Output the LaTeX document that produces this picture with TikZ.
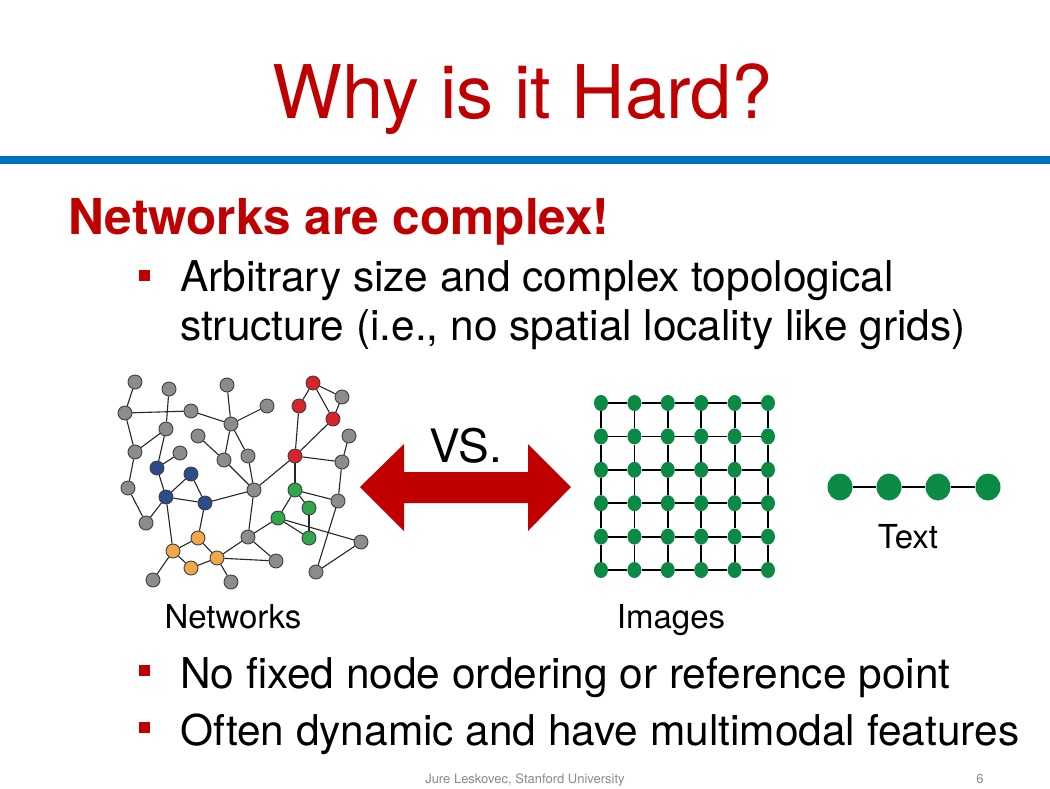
\documentclass[tikz,border=0pt]{standalone}
\usepackage{fontspec}
\setmainfont{TeX Gyre Heros}
\usetikzlibrary{shapes.geometric}
\definecolor{slred}{HTML}{C00000}
\definecolor{slblue}{HTML}{0070C0}
\definecolor{ngray}{HTML}{8C8C8C}
\definecolor{nred}{HTML}{D9232A}
\definecolor{nblue}{HTML}{2C4A8C}
\definecolor{norange}{HTML}{F0A848}
\definecolor{ngreen}{HTML}{2EA84A}
\definecolor{tgreen}{HTML}{0B8A45}
\definecolor{foot}{HTML}{8A8A8A}
\tikzset{
  nnode/.style={circle, draw=black!75, line width=0.9pt, minimum size=14pt, inner sep=0pt},
  nedge/.style={draw=black!85, line width=1.1pt},
  gnode/.style={ellipse, fill=tgreen, minimum width=14pt, minimum height=16pt, inner sep=0pt},
  tnode/.style={ellipse, fill=tgreen, minimum width=25pt, minimum height=27pt, inner sep=0pt},
  gedge/.style={draw=black, line width=1.8pt},
  bodytext/.style={anchor=base west, inner sep=0pt, font=\fontsize{42.4}{46}\selectfont},
  bulletsq/.style={fill=slred},
  lbl/.style={anchor=base, inner sep=0pt, font=\fontsize{33}{36}\selectfont}
}
\begin{document}
\begin{tikzpicture}[x=1pt,y=-1pt]
\useasboundingbox[fill=white] (0,0) rectangle (1050,788);
% title
\node[anchor=base, inner sep=0pt, text=slred, font=\fontsize{74}{80}\selectfont] (title) at (523,118) {Why is it Hard?};
\fill[slblue] (0,156) rectangle (1050,164);
\node[anchor=base west, inner sep=0pt, text=slred, font=\fontsize{49.5}{54}\selectfont\bfseries] (head) at (68,234) {Networks are complex!};
% bullets
\fill[bulletsq] (139,270) rectangle (150,281);
\node[bodytext] (b1a) at (180,291) {Arbitrary size and complex topological};
\node[bodytext] (b1b) at (180,340) {structure (i.e., no spatial locality like grids)};
\fill[bulletsq] (139,665) rectangle (150,676);
\node[bodytext] (b2) at (180,688) {No fixed node ordering or reference point};
\fill[bulletsq] (139,722) rectangle (150,733);
\node[bodytext] (b3) at (180,745) {Often dynamic and have multimodal features};
% network
\foreach \i/\x/\y/\c in {
 1/135/382/ngray, 2/169/389/ngray, 3/227/385/ngray, 4/125/413/ngray, 5/191/411/ngray,
 6/267/406/ngray, 7/231/424/ngray, 8/166/429/ngray, 9/198/436/ngray, 10/135/452/ngray,
 11/180/453/ngray, 12/224/460/ngray, 13/248/456/ngray, 14/157/468/nblue, 15/191/474/nblue,
 16/128/488/ngray, 17/166/497/nblue, 18/205/503/nblue, 19/254/490/ngray, 20/146/523/ngray,
 21/198/538/norange, 22/173/551/norange, 23/248/537/ngray, 24/217/558/norange, 25/191/568/norange,
 26/153/580/ngray, 27/231/582/ngray, 28/276/561/ngray, 29/313/383/nred, 30/342/397/ngray,
 31/299/406/nred, 32/333/419/nred, 33/349/436/ngray, 34/295/456/nred, 35/342/462/ngray,
 36/295/490/ngreen, 37/338/501/ngray, 38/309/508/ngreen, 39/278/518/ngreen, 40/309/538/ngreen,
 41/361/542/ngray, 42/316/572/ngray}
  \node[nnode, fill=\c] (n\i) at (\x,\y) {};
\foreach \a/\b in {1/4, 4/5, 2/8, 4/10, 5/7, 3/7, 6/7, 7/12, 7/13, 8/10, 8/14, 9/12,
 10/16, 14/11, 14/17, 15/17, 15/18, 17/18, 12/19, 13/19, 18/19, 16/20, 17/20, 17/22,
 18/21, 21/22, 21/24, 22/25, 22/26, 24/25, 24/27, 24/23, 24/28, 23/19, 23/28, 23/39,
 19/34, 29/31, 29/30, 29/32, 30/32, 31/34, 32/34, 33/35, 34/35, 34/36, 35/37, 36/37,
 36/38, 36/39, 38/40, 39/40, 39/41, 41/42, 37/42}
  \draw[nedge] (n\a) -- (n\b);
% arrow
\fill[slred] (360,487) -- (404,444) -- (404,472) -- (528,472) -- (528,444) -- (571,487)
  -- (528,531) -- (528,503) -- (404,503) -- (404,531) -- cycle;
\node[anchor=base, inner sep=0pt, font=\fontsize{46}{50}\selectfont] (vs) at (466,462) {VS.};
% grid
\foreach \i in {0,...,5}
  \foreach \j in {0,...,5}
    \node[gnode] (g\i\j) at ({601+33.4*\i},{403+33.4*\j}) {};
\foreach \i in {0,...,4}
  \foreach \j in {0,...,5} {
    \pgfmathtruncatemacro{\ni}{\i+1}
    \draw[gedge] (g\i\j) -- (g\ni\j);
    \draw[gedge] (g\j\i) -- (g\j\ni);
  }
% text chain
\foreach \i/\x in {1/840,2/889,3/938,4/988}
  \node[tnode] (t\i) at (\x,487) {};
\draw[gedge] (t1) -- (t2);
\draw[gedge] (t2) -- (t3);
\draw[gedge] (t3) -- (t4);
% labels
\node[lbl] (lnet) at (233,628) {Networks};
\node[lbl] (limg) at (671,628) {Images};
\node[lbl] (ltxt) at (908,548) {Text};
% footer
\node[anchor=base, inner sep=0pt, text=foot, font=\fontsize{13}{15}\selectfont] (foot) at (525,783) {Jure Leskovec, Stanford University};
\node[anchor=base, inner sep=0pt, text=foot, font=\fontsize{13}{15}\selectfont] (page) at (980,783) {6};
\end{tikzpicture}
\end{document}
